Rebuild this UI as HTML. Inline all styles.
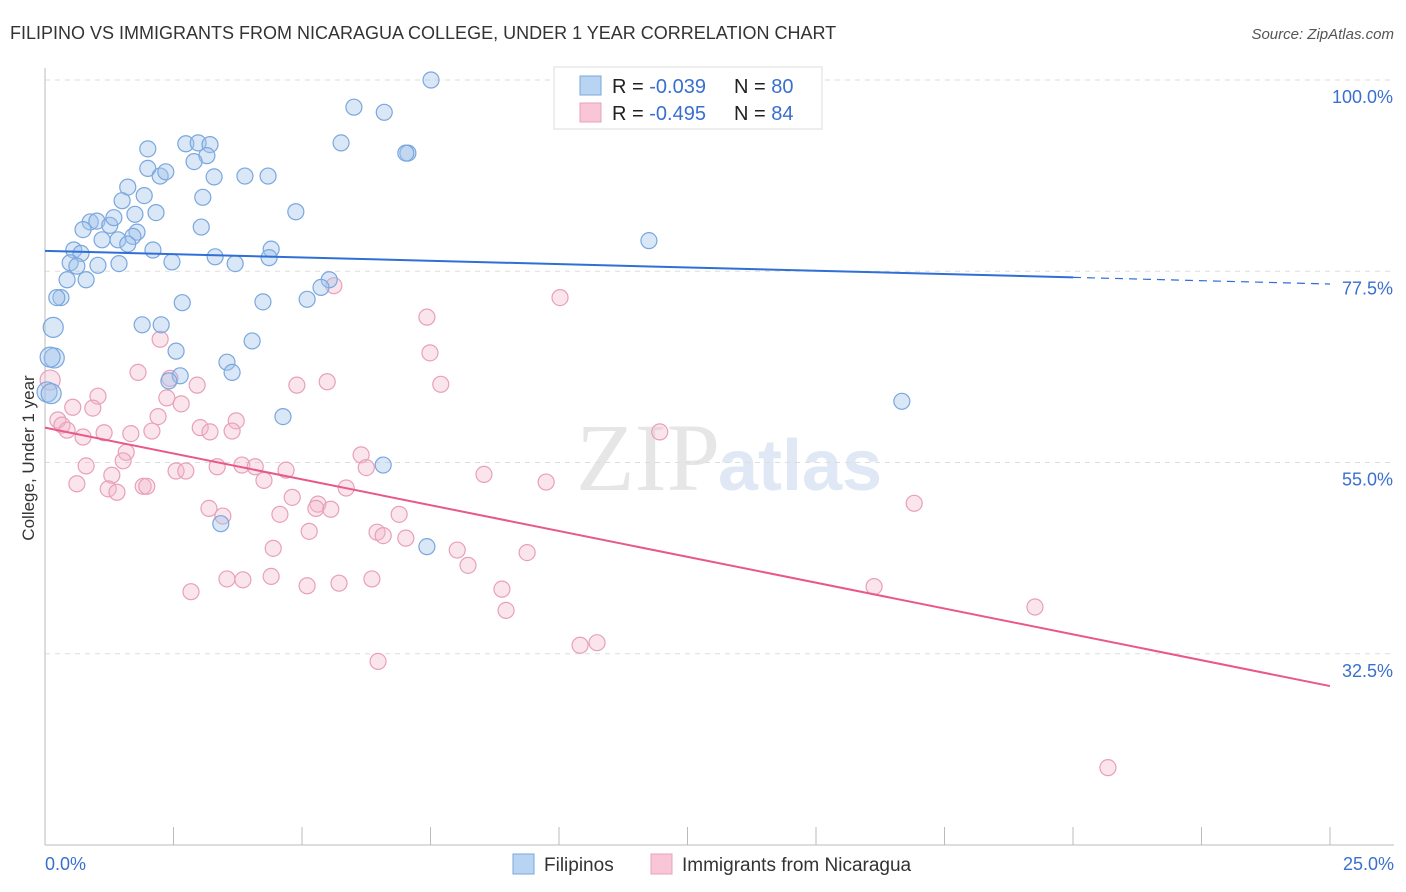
<!DOCTYPE html>
<html><head><meta charset="utf-8"><style>
body{margin:0;background:#fff;font-family:"Liberation Sans",sans-serif;}
svg{display:block}
</style></head><body>
<svg id="chart" width="1406" height="892">
<text x="10" y="39" font-size="18" fill="#333">FILIPINO VS IMMIGRANTS FROM NICARAGUA COLLEGE, UNDER 1 YEAR CORRELATION CHART</text>
<text x="1394" y="39" font-size="15" fill="#555" font-style="italic" text-anchor="end">Source: ZipAtlas.com</text>
<text x="720" y="490" font-size="96" fill="#e6e6e6" text-anchor="end" font-family="Liberation Serif">ZIP</text>
<text x="718" y="490" font-size="72" fill="#dfe8f4" font-weight="bold">atlas</text>
<g id="grid"></g>
<g id="axes"></g>
<g id="pts"></g>
<g id="trends"></g>
<text x="34" y="458" font-size="17" fill="#333" text-anchor="middle" transform="rotate(-90 34 458)">College, Under 1 year</text>
<g>
<rect x="554" y="67" width="268" height="62" fill="#fff" stroke="#ddd"/>
<rect x="580" y="76" width="21" height="19" fill="#b9d3f3" stroke="#7aa7de"/>
<rect x="580" y="103" width="21" height="19" fill="#f8c6d6" stroke="#e8a0b8"/>
<text x="612" y="93" font-size="20" fill="#222">R = <tspan fill="#3a6fcf">-0.039</tspan></text>
<text x="734" y="93" font-size="20" fill="#222">N = <tspan fill="#3a6fcf">80</tspan></text>
<text x="612" y="120" font-size="20" fill="#222">R = <tspan fill="#3a6fcf">-0.495</tspan></text>
<text x="734" y="120" font-size="20" fill="#222">N = <tspan fill="#3a6fcf">84</tspan></text>
</g>
<g>
<rect x="513" y="854" width="21" height="20" fill="#b9d3f3" stroke="#7aa7de"/>
<text x="544" y="871" font-size="19" fill="#333">Filipinos</text>
<rect x="651" y="854" width="21" height="20" fill="#f8c6d6" stroke="#e8a0b8"/>
<text x="682" y="871" font-size="19" fill="#333">Immigrants from Nicaragua</text>
</g>
</svg>
<script>
const blueX=[7.51,6.01,6.60,5.76,2.00,2.74,2.98,3.21,3.15,2.90,7.06,7.02,2.00,2.24,2.35,1.61,3.29,3.89,4.34,1.93,3.07,1.50,2.16,4.88,1.75,0.88,1.01,0.74,1.26,1.34,3.04,1.79,1.71,1.11,1.42,1.61,0.56,0.70,2.10,4.40,3.31,4.36,2.47,0.49,0.62,1.03,1.44,3.70,0.43,0.80,5.53,5.37,0.31,0.23,2.67,4.24,5.10,0.16,1.89,2.26,4.03,2.55,0.18,0.10,3.54,3.64,2.63,2.41,0.04,0.12,4.63,11.75,16.67,6.58,3.42,7.43];
const blueY=[100,96.8,96.2,92.6,91.9,92.5,92.6,92.4,91.1,90.4,91.4,91.4,89.6,88.7,89.2,87.4,88.6,88.7,88.7,86.4,86.2,85.8,84.4,84.5,84.2,83.3,83.4,82.4,82.9,83.8,82.7,82.1,81.6,81.2,81.2,80.7,80.0,79.6,80.0,80.1,79.2,79.1,78.6,78.5,78.1,78.2,78.4,78.4,76.5,76.5,76.5,75.6,74.4,74.4,73.8,73.9,74.2,70.9,71.2,71.2,69.3,68.1,67.3,67.4,66.8,65.6,65.2,64.6,63.3,63.1,60.4,81.1,62.2,54.7,47.8,45.1];
const pinkX=[5.62,10.02,7.43,7.49,2.24,1.81,2.43,2.96,4.90,5.49,7.70,1.03,0.10,0.54,0.93,2.65,2.37,2.20,3.72,0.25,0.33,0.43,3.02,3.21,3.64,1.15,1.67,2.08,0.74,11.96,1.58,1.52,0.80,3.35,3.83,4.09,4.69,6.15,6.25,2.55,2.74,1.30,8.54,4.26,0.62,1.23,1.40,1.91,1.98,5.86,9.75,4.81,5.31,5.27,5.56,3.19,3.46,4.57,6.89,16.91,6.46,6.58,7.02,5.14,4.44,8.02,9.38,8.23,3.54,3.85,4.40,5.10,5.72,6.36,2.84,8.89,8.97,16.13,19.26,10.41,10.74,6.48,20.68];
const pinkY=[75.8,74.4,72.1,67.9,69.5,65.6,64.9,64.1,64.1,64.5,64.2,62.8,64.7,61.5,61.4,61.9,62.6,60.4,59.9,60.0,59.4,58.8,59.1,58.6,58.7,58.5,58.4,58.7,58.0,58.6,56.2,55.2,54.6,54.5,54.7,54.5,54.1,55.9,54.4,54.0,54.0,53.5,53.6,52.9,52.5,51.9,51.5,52.2,52.2,52.0,52.7,50.9,50.1,49.6,49.5,49.6,48.7,48.9,48.9,50.2,46.8,46.4,46.1,46.9,44.9,44.7,44.4,42.9,41.3,41.2,41.6,40.5,40.8,41.3,39.8,40.1,37.6,40.4,38.0,33.5,33.8,31.6,19.1];
const blueTrend=[79.9,76.0];
const pinkTrend=[59.1,28.7];
const yTicks=[100,77.5,55,32.5];
const yTickLabels=["100.0%","77.5%","55.0%","32.5%"];
const NS="http://www.w3.org/2000/svg";
const X=v=>45+v*51.4, Y=v=>80+(100-v)*8.5;
function mk(tag,attrs,parent){const e=document.createElementNS(NS,tag);for(const k in attrs)e.setAttribute(k,attrs[k]);document.getElementById(parent).appendChild(e);return e;}
yTicks.forEach((t,i)=>{
 const l=mk('line',{x1:45,x2:1394,y1:Y(t),y2:Y(t),stroke:'#ddd','stroke-dasharray':'5,5'},'grid');
 
 
 const tx=mk('text',{x:1393,y:Y(t)+23,'font-size':18,fill:'#3a6fcf','text-anchor':'end'},'grid');
 tx.textContent=yTickLabels[i];
 
 
});
const ax=mk('line',{x1:45,x2:1394,y1:845,y2:845,stroke:'#bbb'},'axes');


const ay=mk('line',{x1:45,x2:45,y1:68,y2:845,stroke:'#bbb'},'axes');


for(let i=0;i<=10;i++){const t=mk('line',{x1:X(i*2.5),x2:X(i*2.5),y1:827,y2:845,stroke:'#bbb'},'axes');
 
 }
const x0=mk('text',{x:45,y:870,'font-size':18,fill:'#3a6fcf'},'axes');x0.textContent='0.0%';


const x1=mk('text',{x:1394,y:870,'font-size':18,fill:'#3a6fcf','text-anchor':'end'},'axes');x1.textContent='25.0%';


pinkX.forEach((x,i)=>{const c=mk('circle',{cx:X(x),cy:Y(pinkY[i]),r:x<0.2?10:8,fill:'rgba(244,180,200,0.35)',stroke:'#e8a0b8','stroke-width':1.2},'pts');
 
 });
blueX.forEach((x,i)=>{const c=mk('circle',{cx:X(x),cy:Y(blueY[i]),r:x<0.2?10:8,fill:'rgba(160,195,235,0.4)',stroke:'#7aa7de','stroke-width':1.2},'pts');
 
 });
const bAt=v=>blueTrend[0]+(blueTrend[1]-blueTrend[0])*v/25;
const b1=mk('line',{x1:X(0),y1:Y(bAt(0)),x2:X(20),y2:Y(bAt(20)),stroke:'#2f6fd6','stroke-width':2},'trends');


const b2=mk('line',{x1:X(20),y1:Y(bAt(20)),x2:X(25),y2:Y(bAt(25)),stroke:'#2f6fd6','stroke-width':1.2,'stroke-dasharray':'8,6'},'trends');


const p1=mk('line',{x1:X(0),y1:Y(pinkTrend[0]),x2:X(25),y2:Y(pinkTrend[1]),stroke:'#e8588a','stroke-width':2},'trends');


</script>
</body></html>
